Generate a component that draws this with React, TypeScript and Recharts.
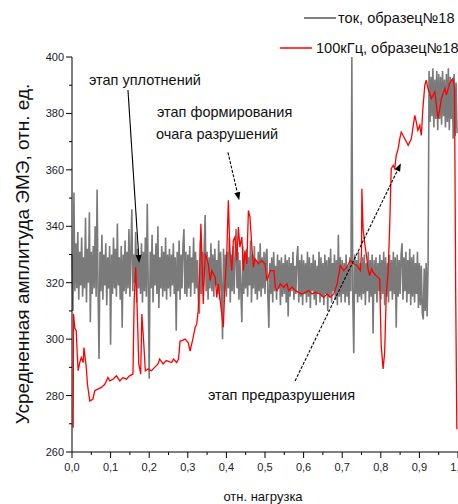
import { LineChart, Line, XAxis, YAxis, ReferenceLine } from "recharts"

// ток, образец№18 — sampled every 0.0025 of load (one row = 0.05)
const greyStep = 0.0025
const greyAmp = [
  330, 310, 352, 317, 334, 318, 338, 314, 331, 319, 336, 315, 329, 318, 343, 313, 332, 320, 345, 306,
  331, 316, 333, 318, 340, 315, 353, 318, 293, 331, 317, 337, 314, 330, 319, 334, 312, 329, 318, 333,
  298, 330, 316, 336, 318, 332, 315, 341, 319, 329, 314, 333, 304, 330, 317, 335, 316, 331, 318, 339,
  315, 331, 346, 317, 330, 320, 338, 313, 332, 318, 329, 316, 334, 313, 331, 317, 336, 315, 348, 319,
  286, 331, 318, 337, 313, 330, 319, 334, 316, 340, 311, 329, 318, 333, 315, 331, 317, 336, 314, 330,
  318, 332, 315, 330, 319, 334, 316, 329, 303, 331, 317, 335, 314, 330, 318, 333, 339, 316, 331, 315,
  330, 318, 333, 315, 329, 320, 336, 316, 331, 318, 328, 314, 309, 335, 316, 331, 319, 333, 344, 317,
  331, 314, 329, 318, 334, 317, 330, 315, 332, 319, 328, 316, 335, 314, 331, 318, 300, 332, 317, 330,
  315, 331, 318, 336, 313, 330, 317, 333, 316, 329, 339, 318, 331, 314, 328, 317, 306, 333, 316, 330,
  318, 332, 315, 329, 319, 335, 313, 330, 318, 333, 316, 328, 314, 331, 317, 334, 315, 329, 318, 331,
  316, 330, 332, 315, 304, 327, 316, 329, 313, 331, 317, 326, 314, 330, 318, 328, 312, 329, 315, 327,
  316, 330, 313, 328, 308, 329, 315, 327, 317, 331, 314, 326, 316, 329, 333, 313, 328, 315, 330, 312,
  328, 316, 327, 313, 331, 315, 329, 311, 327, 317, 330, 314, 328, 312, 326, 316, 331, 313, 329, 315,
  327, 312, 330, 316, 328, 310, 329, 315, 332, 313, 327, 317, 330, 314, 328, 312, 337, 315, 329, 313,
  328, 316, 327, 313, 330, 315, 326, 312, 329, 317, 400, 314, 295, 330, 316, 328, 313, 331, 315, 327,
  314, 329, 316, 330, 312, 327, 317, 331, 313, 328, 315, 330, 302, 328, 316, 329, 313, 327, 317, 330,
  314, 328, 316, 331, 312, 329, 315, 327, 313, 330, 317, 328, 314, 331, 316, 329, 304, 330, 315, 328,
  316, 330, 334, 314, 329, 317, 331, 313, 328, 316, 332, 312, 329, 315, 330, 313, 327, 316, 331, 311,
  327, 312, 326, 309, 307, 325, 310, 327, 308, 326, 395, 377, 393, 379, 396, 375, 392, 378, 395, 374,
  394, 378, 393, 376, 395, 379, 392, 375, 394, 377, 396, 374, 393, 378, 392, 371, 394, 372, 391, 373,
]

// 100кГц, образец№18 — [load, amplitude]
const redPoints: [number, number][] = [
  [0.003, 268.6], [0.004, 309], [0.007, 304], [0.011, 303], [0.014, 293.5], [0.016, 288.8],
  [0.02, 291.7], [0.024, 293.5], [0.029, 291.7], [0.031, 297], [0.037, 290], [0.04, 284],
  [0.046, 278.1], [0.054, 278.7], [0.059, 281.7], [0.067, 282.3], [0.076, 282.9], [0.085, 284],
  [0.093, 286.4], [0.098, 285.2], [0.106, 285.8], [0.115, 287], [0.124, 285.2], [0.132, 286.4],
  [0.141, 285.8], [0.149, 287], [0.158, 287.6], [0.161, 313.7], [0.165, 325.5], [0.169, 310.1],
  [0.173, 291.2], [0.178, 287.6], [0.181, 308.9], [0.186, 298.3], [0.19, 288.8], [0.197, 289.4],
  [0.206, 288.8], [0.214, 290], [0.223, 291.2], [0.227, 293], [0.236, 291.2], [0.244, 292.4],
  [0.258, 291.7], [0.263, 292.9], [0.271, 291.7], [0.276, 292.9], [0.28, 299.4], [0.284, 299.4],
  [0.293, 300], [0.301, 298.8], [0.306, 295.8], [0.314, 300.6], [0.319, 304.2], [0.323, 305.3],
  [0.327, 310.1], [0.33, 320.7], [0.334, 340.9], [0.34, 312.5], [0.345, 330.3], [0.353, 326.7],
  [0.358, 320.7], [0.362, 324.3], [0.371, 321.9], [0.375, 314.8], [0.379, 319.6], [0.383, 314.8],
  [0.388, 308.9], [0.392, 304.2], [0.396, 318.4], [0.401, 330.3], [0.405, 349.2], [0.409, 331.4],
  [0.414, 324.3], [0.418, 335], [0.422, 336.2], [0.427, 327.9], [0.431, 339.7], [0.435, 332.6],
  [0.44, 336.2], [0.444, 324.3], [0.448, 331.4], [0.453, 326.7], [0.457, 345.6], [0.461, 343.3],
  [0.466, 332.6], [0.47, 325.5], [0.474, 328.5], [0.483, 326.7], [0.491, 327.9], [0.5, 326.7],
  [0.505, 320.7], [0.514, 324.3], [0.523, 324.3], [0.527, 318.4], [0.531, 317.2], [0.54, 319.6],
  [0.548, 318.4], [0.557, 319.6], [0.561, 317.2], [0.57, 318.4], [0.579, 317.2], [0.587, 316.6],
  [0.596, 316], [0.605, 316.6], [0.613, 317.2], [0.622, 316], [0.63, 316.6], [0.643, 316],
  [0.652, 314.8], [0.661, 316], [0.669, 314.8], [0.678, 316], [0.687, 319.6], [0.695, 326.1],
  [0.704, 324.3], [0.712, 325.5], [0.721, 327.9], [0.73, 326.7], [0.738, 326.1], [0.747, 324.3],
  [0.75, 330.8], [0.751, 353.3], [0.754, 339.1], [0.758, 334.4], [0.763, 329.4], [0.767, 324.9],
  [0.771, 322.5], [0.776, 324.9], [0.78, 323.7], [0.788, 322.5], [0.797, 321.4], [0.801, 297.7],
  [0.806, 289.4], [0.81, 295.4], [0.814, 315.4], [0.819, 323.7], [0.823, 339.7], [0.827, 360.4],
  [0.832, 361.6], [0.836, 360.4], [0.84, 365.1], [0.845, 367.5], [0.849, 371], [0.853, 373.4],
  [0.862, 371], [0.871, 368.7], [0.879, 371], [0.888, 379.3], [0.892, 376.9], [0.896, 374],
  [0.901, 375.8], [0.905, 372.2], [0.909, 381.7], [0.914, 390], [0.918, 391.8], [0.922, 388.9],
  [0.931, 385.3], [0.94, 387.7], [0.948, 378.2], [0.953, 381.7], [0.957, 385.3], [0.966, 388.9],
  [0.97, 386.5], [0.978, 390.6], [0.987, 392.4], [0.991, 388.9], [0.994, 316.6], [0.997, 268.1],
]

const xTicks = [0, 0.05, 0.1, 0.15, 0.2, 0.25, 0.3, 0.35, 0.4, 0.45, 0.5, 0.55, 0.6, 0.65, 0.7, 0.75, 0.8, 0.85, 0.9, 0.95, 1]
const yTicks = [260, 270, 280, 290, 300, 310, 320, 330, 340, 350, 360, 370, 380, 390, 400]

// annotation arrows, in data coordinates
const arrows = [
  { x1: 0.145, y1: 388.3, x2: 0.174, y2: 327, dashed: false },
  { x1: 0.404, y1: 366.2, x2: 0.433, y2: 349.2, dashed: true },
  { x1: 0.578, y1: 285.2, x2: 0.852, y2: 362.3, dashed: true },
]

const greyData = greyAmp.map((v, i) => ({ load: +(i * greyStep).toFixed(4), amp: v }))
const redData = redPoints.map(([x, y]) => ({ load: x, amp: y }))

const FONT = '"Liberation Sans", Arial, sans-serif'

function XTick(props: any) {
  const { x, y, payload } = props
  const v = payload.value
  const major = Math.abs(v * 10 - Math.round(v * 10)) < 1e-6
  return (
    <g>
      <line x1={x} x2={x} y1={y} y2={y + (major ? 6 : 3)} stroke="#000" />
      {major && (
        <text x={x} y={y + 19} textAnchor="middle" fontSize={11} fontFamily={FONT} fill="#1a1a2a">
          {v.toFixed(1).replace(".", ",")}
        </text>
      )}
    </g>
  )
}

function YTick(props: any) {
  const { x, y, payload } = props
  const major = payload.value % 20 === 0
  return (
    <g>
      <line x1={x - (major ? 6 : 3)} x2={x} y1={y} y2={y} stroke="#000" />
      {major && (
        <text x={x - 8} y={y + 4} textAnchor="end" fontSize={11} fontFamily={FONT} fill="#1a1a2a">
          {payload.value}
        </text>
      )}
    </g>
  )
}

function Arrow(props: any) {
  const { x1, y1, x2, y2, dashed } = props
  const a = Math.atan2(y2 - y1, x2 - x1)
  const len = 8
  const w = 3
  const bx = x2 - len * Math.cos(a)
  const by = y2 - len * Math.sin(a)
  const px = -Math.sin(a) * w
  const py = Math.cos(a) * w
  return (
    <g>
      <line x1={x1} y1={y1} x2={bx} y2={by} stroke="#000" strokeWidth={1.1} strokeDasharray={dashed ? "3 1.5" : undefined} />
      <polygon points={`${x2},${y2} ${bx + px},${by + py} ${bx - px},${by - py}`} fill="#000" />
    </g>
  )
}

export default function App() {
  return (
    <div style={{ position: "fixed", left: 0, top: 0, width: 458, height: 504, overflow: "hidden", background: "#fff" }}>
      <LineChart width={480} height={504} margin={{ top: 57, right: 22, left: 0, bottom: 0 }}>
        <XAxis
          dataKey="load"
          type="number"
          domain={[0, 1]}
          ticks={xTicks}
          interval={0}
          height={52}
          tickSize={0}
          tickMargin={0}
          tickLine={false}
          axisLine={{ stroke: "#000" }}
          tick={<XTick />}
          allowDuplicatedCategory={false}
        />
        <YAxis
          type="number"
          domain={[260, 400]}
          ticks={yTicks}
          interval={0}
          width={72}
          tickSize={0}
          tickMargin={0}
          tickLine={false}
          axisLine={{ stroke: "#000" }}
          tick={<YTick />}
        />
        <Line data={greyData} dataKey="amp" type="linear" stroke="#7a7a7a" strokeWidth={1.6} dot={false} activeDot={false} isAnimationActive={false} />
        <Line data={redData} dataKey="amp" type="linear" stroke="#ff0000" strokeWidth={1.3} dot={false} activeDot={false} isAnimationActive={false} />
        {arrows.map((a, i) => (
          <ReferenceLine
            key={i}
            segment={[{ x: a.x1, y: a.y1 }, { x: a.x2, y: a.y2 }]}
            ifOverflow="visible"
            shape={(p: any) => <Arrow {...p} dashed={a.dashed} />}
          />
        ))}
      </LineChart>
      <svg width={458} height={504} style={{ position: "absolute", left: 0, top: 0, pointerEvents: "none" }} fontFamily={FONT}>
        <line x1={304} x2={336} y1={18} y2={18} stroke="#808080" strokeWidth={2} />
        <text x={338} y={23} fontSize={14.6} fill="#111">ток, образец№18</text>
        <line x1={280} x2={312} y1={48} y2={48} stroke="#ff0000" strokeWidth={1.5} />
        <text x={316} y={53} fontSize={14.6} fill="#111">100кГц, образец№18</text>

        <text x={89} y={85} fontSize={14.5} fill="#111">этап уплотнений</text>
        <text x={157} y={117} fontSize={14.5} fill="#111">этап формирования</text>
        <text x={156} y={139} fontSize={14.5} fill="#111">очага разрушений</text>
        <text x={208} y={400} fontSize={14.5} fill="#111">этап предразрушения</text>

        <text x={263} y={501} fontSize={13} fill="#111" textAnchor="middle">отн. нагрузка</text>
        <text x={0} y={0} fontSize={19} fill="#111" textAnchor="middle" transform="translate(29 254) rotate(-90)">
          Усредненная амплитуда ЭМЭ, отн. ед.
        </text>
      </svg>
    </div>
  )
}
